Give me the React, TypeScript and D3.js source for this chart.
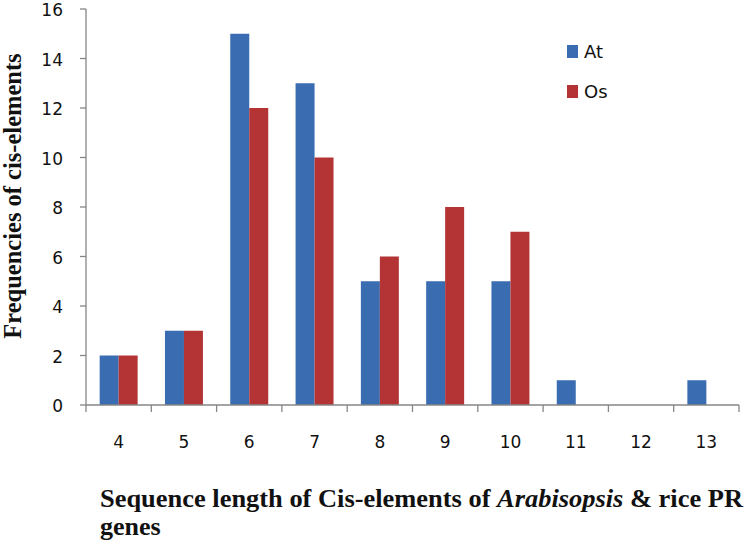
import React, { useEffect, useRef } from 'react';
import * as d3 from 'd3';

const categories = ['4', '5', '6', '7', '8', '9', '10', '11', '12', '13'];
const atValues = [2, 3, 15, 13, 5, 5, 5, 1, 0, 1];
const osValues = [2, 3, 12, 10, 6, 8, 7, 0, 0, 0];
const yTicks = [0, 2, 4, 6, 8, 10, 12, 14, 16];
const seriesNames = ['At', 'Os'];
const colors = ['#3a6cb1', '#b43334'];

const App = () => {
  const svgRef = useRef<SVGSVGElement>(null);

  useEffect(() => {
    const width = 750;
    const height = 547;
    const left = 86;
    const right = 739;
    const top = 9;
    const bottom = 405;

    const svg = d3.select(svgRef.current);
    svg.selectAll('*').remove();
    svg.attr('width', width).attr('height', height);

    const x = d3.scaleBand().domain(categories).range([left, right]).paddingInner(0).paddingOuter(0);
    const inner = d3.scaleBand().domain(seriesNames).range([0, x.bandwidth()]).paddingOuter(0.72).paddingInner(0);
    const y = d3.scaleLinear().domain([0, 16]).range([bottom, top]);

    const axisColor = '#868686';

    // Bars
    const data = categories.map((c, i) => ({ c, vals: [atValues[i], osValues[i]] }));
    const groups = svg.selectAll('g.grp')
      .data(data)
      .join('g')
      .attr('class', 'grp')
      .attr('transform', d => `translate(${x(d.c)},0)`);

    groups.selectAll('rect')
      .data(d => d.vals.map((v, k) => ({ v, k })))
      .join('rect')
      .attr('x', d => inner(seriesNames[d.k])!)
      .attr('width', inner.bandwidth())
      .attr('y', d => y(d.v))
      .attr('height', d => bottom - y(d.v))
      .attr('fill', d => colors[d.k]);

    // Y axis
    svg.append('line')
      .attr('x1', left).attr('x2', left).attr('y1', top).attr('y2', bottom)
      .attr('stroke', axisColor).attr('stroke-width', 1.3);
    svg.selectAll('line.ytick')
      .data(yTicks)
      .join('line')
      .attr('class', 'ytick')
      .attr('x1', left - 6).attr('x2', left)
      .attr('y1', d => y(d)).attr('y2', d => y(d))
      .attr('stroke', axisColor).attr('stroke-width', 1.3);
    svg.selectAll('text.ylab')
      .data(yTicks)
      .join('text')
      .attr('class', 'ylab')
      .attr('x', 63)
      .attr('y', d => y(d) + 7)
      .attr('text-anchor', 'end')
      .attr('font-family', 'DejaVu Sans, sans-serif')
      .attr('font-size', 17)
      .attr('fill', '#111')
      .text(d => d);

    // X axis
    svg.append('line')
      .attr('x1', left).attr('x2', right).attr('y1', bottom).attr('y2', bottom)
      .attr('stroke', axisColor).attr('stroke-width', 1.3);
    const edges = categories.map(c => x(c)!).concat([right]);
    svg.selectAll('line.xtick')
      .data(edges)
      .join('line')
      .attr('class', 'xtick')
      .attr('x1', d => d).attr('x2', d => d)
      .attr('y1', bottom).attr('y2', bottom + 7)
      .attr('stroke', axisColor).attr('stroke-width', 1.3);
    svg.selectAll('text.xlab')
      .data(categories)
      .join('text')
      .attr('class', 'xlab')
      .attr('x', d => x(d)! + x.bandwidth() / 2)
      .attr('y', 448)
      .attr('text-anchor', 'middle')
      .attr('font-family', 'DejaVu Sans, sans-serif')
      .attr('font-size', 17)
      .attr('fill', '#111')
      .text(d => d);

    // Y title
    svg.append('text')
      .attr('transform', `translate(21,196) rotate(-90)`)
      .attr('text-anchor', 'middle')
      .attr('font-family', 'Liberation Serif, serif')
      .attr('font-weight', 'bold')
      .attr('font-size', 24.5)
      .attr('fill', '#111')
      .text('Frequencies of cis-elements');

    // X title
    const xt = svg.append('text')
      .attr('x', 100)
      .attr('y', 507)
      .attr('font-family', 'Liberation Serif, serif')
      .attr('font-weight', 'bold')
      .attr('font-size', 26)
      .attr('textLength', 643)
      .attr('lengthAdjust', 'spacingAndGlyphs')
      .attr('fill', '#111');
    xt.append('tspan').text('Sequence length of Cis-elements of ');
    xt.append('tspan').attr('font-style', 'italic').text('Arabisopsis');
    xt.append('tspan').text(' & rice PR');
    svg.append('text')
      .attr('x', 100)
      .attr('y', 535)
      .attr('font-family', 'Liberation Serif, serif')
      .attr('font-weight', 'bold')
      .attr('font-size', 26)
      .attr('fill', '#111')
      .text('genes');

    // Legend
    const legend = svg.selectAll('g.leg')
      .data(seriesNames)
      .join('g')
      .attr('class', 'leg')
      .attr('transform', (d, i) => `translate(567,${45 + i * 40})`);
    legend.append('rect')
      .attr('width', 11).attr('height', 13)
      .attr('fill', (d, i) => colors[i]);
    legend.append('text')
      .attr('x', 17).attr('y', 13)
      .attr('font-family', 'DejaVu Sans, sans-serif')
      .attr('font-size', 18)
      .attr('fill', '#111')
      .text(d => d);
  }, []);

  return <svg ref={svgRef} style={{ position: 'absolute', left: 0, top: 0 }} />;
};

export default App;
